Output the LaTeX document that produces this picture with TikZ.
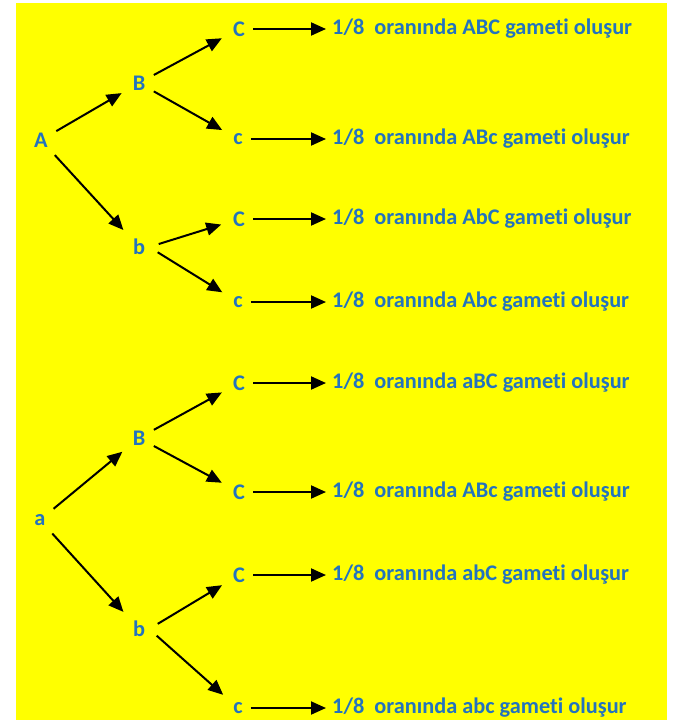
\documentclass[tikz,border=0pt]{standalone}
\usepackage{fontspec}
\setmainfont{Carlito}[Ligatures=NoCommon]
\usetikzlibrary{arrows.meta}
\definecolor{txt}{RGB}{35,115,190}
\definecolor{bg}{RGB}{255,255,0}
\begin{document}
\begin{tikzpicture}[x=1pt,y=-1pt,
 lbl/.style={font=\bfseries\fontsize{22.3}{26}\selectfont, text=txt, inner sep=4pt},
 res/.style={lbl, anchor=west, inner xsep=6pt, inner ysep=2pt},
 arr/.style={line width=2pt, -{Triangle[length=15pt,width=13pt]}},
 tarr/.style={arr, shorten <=5pt, shorten >=8pt},
 varr/.style={arr, shorten <=10pt, shorten >=8pt},
 harr/.style={arr, shorten <=4pt}]
\useasboundingbox (0,0) rectangle (675,720);
\fill[bg] (16,3) rectangle (667,720);
% level 1
\node[lbl] (A) at (41,140) {A};
\node[lbl] (a) at (40,520) {a};
% level 2
\node[lbl] (B1) at (139,83) {B};
\node[lbl] (b1) at (139,247) {b};
\node[lbl] (B2) at (139,438) {B};
\node[lbl] (b2) at (139,629) {b};
% level 3
\node[lbl] (C1) at (239,29) {C};
\node[lbl] (C2) at (238,139) {c};
\node[lbl] (C3) at (239,219) {C};
\node[lbl] (C4) at (238,302) {c};
\node[lbl] (C5) at (239,383) {C};
\node[lbl] (C6) at (239,492) {C};
\node[lbl] (C7) at (239,575) {C};
\node[lbl] (C8) at (238,708) {c};
% results
\node[res] (t1) at (326,29) {1/8~~oranında ABC gameti oluşur};
\node[res] (t2) at (326,139) {1/8~~oranında ABc gameti oluşur};
\node[res] (t3) at (326,219) {1/8~~oranında AbC gameti oluşur};
\node[res] (t4) at (326,302) {1/8~~oranında Abc gameti oluşur};
\node[res] (t5) at (326,383) {1/8~~oranında aBC gameti oluşur};
\node[res] (t6) at (326,492) {1/8~~oranında ABc gameti oluşur};
\node[res] (t7) at (326,575) {1/8~~oranında abC gameti oluşur};
\node[res] (t8) at (326,708) {1/8~~oranında abc gameti oluşur};
% tree arrows
\draw[tarr] (A) -- (B1);
\draw[tarr] (A) -- (b1);
\draw[tarr] (B1) -- (C1);
\draw[tarr] (B1) -- (C2);
\draw[varr] (b1.east) -- (C3);
\draw[varr] (b1.east) -- (C4);
\draw[tarr] (a) -- (B2);
\draw[tarr] (a) -- (b2);
\draw[tarr] (B2) -- (C5);
\draw[tarr] (B2) -- (C6);
\draw[varr] (b2.east) -- (C7);
\draw[varr] (b2.east) -- (C8);
% result arrows
\foreach \i in {1,...,8}{
  \draw[harr] (C\i.east) -- (C\i.east -| t\i.west);
}
\end{tikzpicture}
\end{document}
